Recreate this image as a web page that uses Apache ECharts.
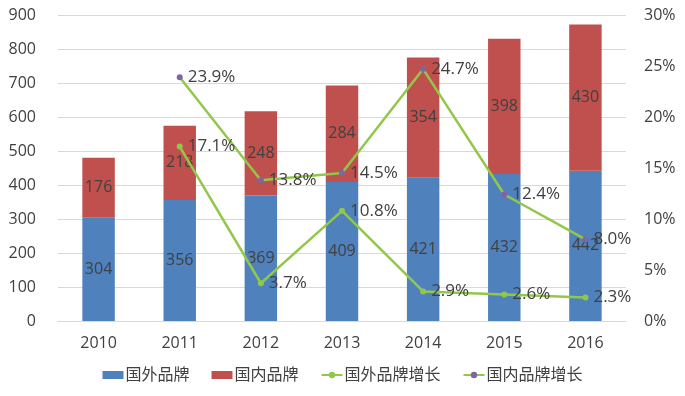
<!DOCTYPE html>
<html><head><meta charset="utf-8">
<script src="https://cdn.jsdelivr.net/npm/echarts@6/dist/echarts.min.js"></script>
<style>html,body{margin:0;padding:0;background:#fff}#c{width:685px;height:396px}</style>
</head><body><div id="c"></div>
<script>
const categories = ['2010','2011','2012','2013','2014','2015','2016'];
const foreignBrand = [304,356,369,409,421,432,442];
const domesticBrand = [176,218,248,284,354,398,430];
const foreignGrowth = [null,17.1,3.7,10.8,2.9,2.6,2.3];
const domesticGrowth = [null,23.9,13.8,14.5,24.7,12.4,8.0];
const seriesNames = ['国外品牌','国内品牌','国外品牌增长','国内品牌增长'];

const font = "'Open Sans','Noto Sans CJK SC',sans-serif";
const txt = '#404040';
const green = '#92C84A';
const chart = echarts.init(document.getElementById('c'));
chart.setOption({
  animation:false,
  textStyle:{fontFamily:font},
  grid:{left:58,right:59,top:15,bottom:75},
  legend:{
    bottom:8, left:'center', itemGap:22, itemWidth:21, itemHeight:8,
    textStyle:{color:txt,fontSize:16,fontFamily:font,padding:[0,0,0,-3]},
    data:[
      {name:seriesNames[0],icon:'rect'},
      {name:seriesNames[1],icon:'rect'},
      {name:seriesNames[2]},
      {name:seriesNames[3]}
    ]
  },
  xAxis:{type:'category',data:categories,
    axisLine:{lineStyle:{color:'#d9d9d9'}},axisTick:{show:false},
    axisLabel:{color:txt,fontSize:16,margin:14}},
  yAxis:[
    {type:'value',min:0,max:900,interval:100,
      axisLine:{show:false},axisTick:{show:false},
      splitLine:{lineStyle:{color:'#d9d9d9'}},
      axisLabel:{color:txt,fontSize:16,margin:22}},
    {type:'value',min:0,max:30,interval:5,
      axisLine:{show:false},axisTick:{show:false},splitLine:{show:false},
      axisLabel:{color:txt,fontSize:16,margin:18,formatter:'{value}%'}}
  ],
  series:[
    {name:seriesNames[0],type:'bar',stack:'a',data:foreignBrand,barWidth:'40%',
      itemStyle:{color:'#4F81BD'},
      label:{show:true,position:'inside',color:txt,fontSize:16}},
    {name:seriesNames[1],type:'bar',stack:'a',data:domesticBrand,
      itemStyle:{color:'#C0504D'},
      label:{show:true,position:'inside',color:txt,fontSize:16}},
    {name:seriesNames[2],type:'line',yAxisIndex:1,data:foreignGrowth,
      symbol:'circle',symbolSize:6,
      lineStyle:{color:green,width:2.5},itemStyle:{color:green},
      label:{show:true,position:'right',distance:5,color:txt,fontSize:17,
        formatter:p=>p.value.toFixed(1)+'%'}},
    {name:seriesNames[3],type:'line',yAxisIndex:1,data:domesticGrowth,
      symbol:'circle',symbolSize:6,
      lineStyle:{color:green,width:2.5},itemStyle:{color:'#8064A2'},
      label:{show:true,position:'right',distance:5,color:txt,fontSize:17,
        formatter:p=>p.value.toFixed(1)+'%'}}
  ]
});
</script></body></html>
